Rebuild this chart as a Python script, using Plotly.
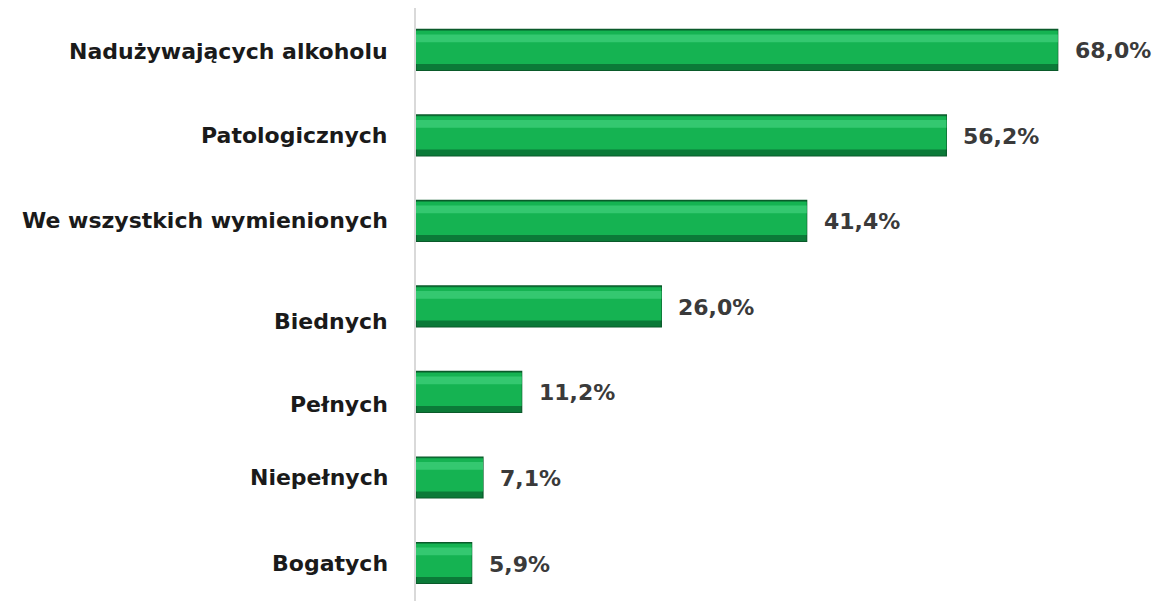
import plotly.graph_objects as go

categories = ["Bogatych", "Niepełnych", "Pełnych", "Biednych",
              "We wszystkich wymienionych", "Patologicznych", "Nadużywających alkoholu"]
values = [5.9, 7.1, 11.2, 26.0, 41.4, 56.2, 68.0]
labels = ["5,9%", "7,1%", "11,2%", "26,0%", "41,4%", "56,2%", "68,0%"]

# small vertical nudges of the category captions as seen in the original (pixels)
caption_nudge = [0, 0, -13, -15, 0, 0, -2]

fig = go.Figure()
# base bar (darker edge)
fig.add_trace(go.Bar(
    y=categories, x=values, orientation="h", width=0.48, offset=-0.24,
    marker=dict(color="#0b7a38", line=dict(color="#0a5a2a", width=1.2)),
    hoverinfo="skip", showlegend=False))
# main face
fig.add_trace(go.Bar(
    y=categories, x=values, orientation="h", width=0.39, offset=-0.165,
    marker=dict(color="#15b352", line=dict(width=0)),
    hoverinfo="skip", showlegend=False))
# top highlight
fig.add_trace(go.Bar(
    y=categories, x=values, orientation="h", width=0.09, offset=0.09,
    marker=dict(color="#34c870", line=dict(width=0)),
    hoverinfo="skip", showlegend=False))

for c, v, t in zip(categories, values, labels):
    fig.add_annotation(x=v, y=c, text=t, showarrow=False, xanchor="left",
                       xshift=15, yshift=-1,
                       font=dict(family="DejaVu Sans", size=22, color="#3a3a3a", weight="bold"))

for c, n in zip(categories, caption_nudge):
    fig.add_annotation(x=0, y=c, text=c, showarrow=False, xanchor="right",
                       xshift=-26, yshift=n,
                       font=dict(family="DejaVu Sans", size=22, color="#1a1a1a", weight="bold"))

fig.update_layout(
    width=1163, height=601,
    margin=dict(l=408, r=0, t=0, b=0, pad=0),
    barmode="overlay",
    plot_bgcolor="white", paper_bgcolor="white",
    xaxis=dict(range=[0, 80.0], showgrid=False, showticklabels=False, zeroline=False,
               showline=False, fixedrange=True, automargin=False),
    yaxis=dict(categoryorder="array", categoryarray=categories,
               range=[-0.538, 6.491], showgrid=False, zeroline=False, automargin=False,
               showline=True, linecolor="#d9d9d9", linewidth=1.5,
               ticks="", showticklabels=False),
)

fig.write_html("out.html")
